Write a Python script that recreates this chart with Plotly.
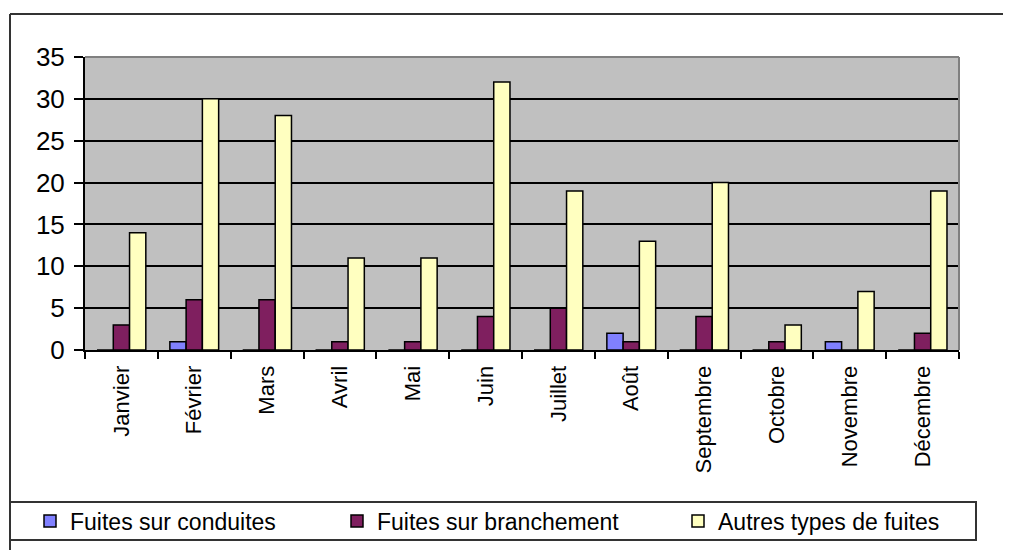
import plotly.graph_objects as go

months = ["Janvier", "Février", "Mars", "Avril", "Mai", "Juin", "Juillet",
          "Août", "Septembre", "Octobre", "Novembre", "Décembre"]
fuites_conduites = [0, 1, 0, 0, 0, 0, 0, 2, 0, 0, 1, 0]
fuites_branchement = [3, 6, 6, 1, 1, 4, 5, 1, 4, 1, 0, 2]
autres_fuites = [14, 30, 28, 11, 11, 32, 19, 13, 20, 3, 7, 19]
series_names = ["Fuites sur conduites", "Fuites sur branchement", "Autres types de fuites"]
y_ticks = [0, 5, 10, 15, 20, 25, 30, 35]

# the page body has an 8px margin: the figure starts at (8, 8) in the window
OFF = 8
W, H = 1011 - OFF, 550 - OFF
# plot-area edges in window pixels
L, R, T, B = 85, 959, 57, 350
FONT = "Arial, Liberation Sans, sans-serif"

def px_x(px):
    return (px - L) / (R - L)

def px_y(py):
    return (B - py) / (B - T)

colors = ["#8080FF", "#7F1F5F", "#FFFFC0"]
values = [fuites_conduites, fuites_branchement, autres_fuites]
legends = ["legend", "legend2", "legend3"]

fig = go.Figure()
for name, vals, col, lg in zip(series_names, values, colors, legends):
    fig.add_trace(go.Bar(
        x=months, y=vals, name=name, legend=lg,
        marker=dict(color=col, line=dict(color="#000000", width=1.5)),
    ))

legend_common = dict(xref="container", yref="container", xanchor="left", yanchor="middle",
                     y=1 - (521 - OFF) / H, bgcolor="rgba(0,0,0,0)", borderwidth=0,
                     font=dict(family=FONT, size=23, color="#000"),
                     itemwidth=30)
legend_x = [30, 337, 678]

fig.update_layout(
    width=W, height=H,
    margin=dict(l=L - OFF, r=(W + OFF) - R, t=T - OFF, b=(H + OFF) - B, pad=0, autoexpand=False),
    paper_bgcolor="#FFFFFF",
    plot_bgcolor="#C0C0C0",
    barmode="group",
    bargap=0.33,
    bargroupgap=0,
    showlegend=True,
    legend=dict(legend_common, x=(legend_x[0] - OFF) / W),
    legend2=dict(legend_common, x=(legend_x[1] - OFF) / W),
    legend3=dict(legend_common, x=(legend_x[2] - OFF) / W),
    xaxis=dict(
        type="category", tickangle=-90, tickson="boundaries",
        ticks="outside", ticklen=7, tickcolor="#000", tickwidth=1.5,
        showline=True, linecolor="#000", linewidth=2,
        showgrid=False, zeroline=False, automargin=False,
        tickfont=dict(family=FONT, size=22, color="#000"),
        ticklabelstandoff=5,
    ),
    yaxis=dict(
        range=[0, 35], tickvals=y_ticks,
        ticks="outside", ticklen=9, tickcolor="#000", tickwidth=1.5,
        showline=True, linecolor="#000", linewidth=2, automargin=False,
        showgrid=True, gridcolor="#000", gridwidth=1.5, zeroline=False,
        tickfont=dict(family=FONT, size=26, color="#000"),
        ticklabelstandoff=4,
    ),
)

# plot-area border (top & right, gray)
fig.add_shape(type="line", xref="paper", yref="paper", x0=0, x1=1, y0=1, y1=1,
              line=dict(color="#808080", width=2), layer="above")
fig.add_shape(type="line", xref="paper", yref="paper", x0=1, x1=1, y0=0, y1=1,
              line=dict(color="#808080", width=2), layer="above")
# outer chart frame (top & left)
fig.add_shape(type="line", xref="paper", yref="paper", x0=px_x(10), x1=px_x(1011),
              y0=px_y(14), y1=px_y(14), line=dict(color="#333", width=2))
fig.add_shape(type="line", xref="paper", yref="paper", x0=px_x(10), x1=px_x(10),
              y0=px_y(14), y1=px_y(550), line=dict(color="#333", width=2))
# legend box
fig.add_shape(type="rect", xref="paper", yref="paper", x0=px_x(10), x1=px_x(976),
              y0=px_y(502), y1=px_y(540), line=dict(color="#333", width=2))

fig.write_html("out.html")
